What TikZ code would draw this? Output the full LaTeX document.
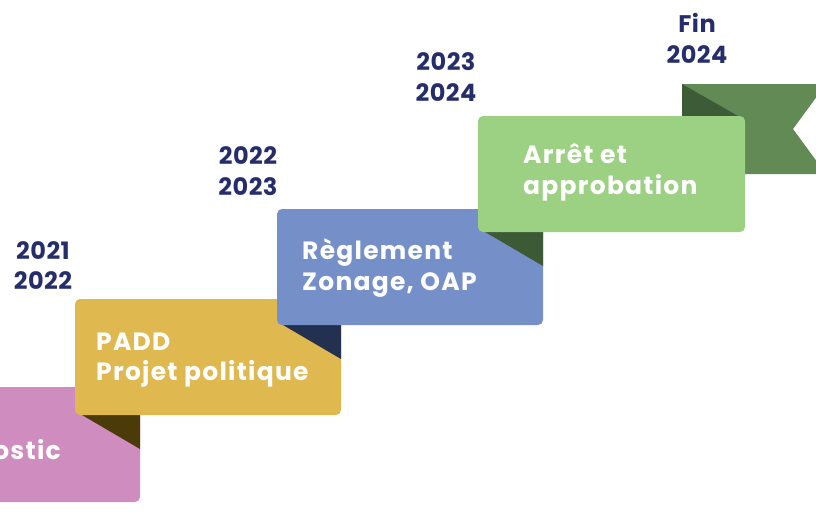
\documentclass[tikz,border=0pt]{standalone}
\usepackage{fontspec}
\setmainfont{Poppins}
\newfontfamily\boxfont{Poppins}[LetterSpace=5]
\newfontfamily\yearfont{Poppins}[LetterSpace=2]
\definecolor{pinkbox}{HTML}{CE8DBE}
\definecolor{yellowbox}{HTML}{DFB84F}
\definecolor{yellowdark}{HTML}{4A3B08}
\definecolor{bluebox}{HTML}{7590C9}
\definecolor{bluedark}{HTML}{23304F}
\definecolor{greenbox}{HTML}{9CD083}
\definecolor{greendark}{HTML}{3B5A35}
\definecolor{ribbon}{HTML}{628A55}
\definecolor{ribbondark}{HTML}{3D5B36}
\definecolor{navy}{HTML}{252E6B}
\begin{document}
\begin{tikzpicture}[x=1pt,y=-1pt,
  stepbox/.style={rounded corners=5pt},
  lbl/.style={anchor=base west, inner sep=0pt, text=white, font=\boxfont\fontsize{25}{30}\selectfont\bfseries},
  yr/.style={anchor=base, inner sep=0pt, text=navy, font=\yearfont\fontsize{24}{30}\selectfont\bfseries}]
\useasboundingbox (0,0) rectangle (816,531);
\clip (0,0) rectangle (816,531);
% ribbon end
\fill[ribbon] (682,84) -- (826,84) -- (793,129) -- (826,174) -- (682,174) -- cycle;
\fill[ribbondark] (682,84) -- (738,116) -- (682,116) -- cycle;
% boxes
\fill[pinkbox,stepbox] (-127,387) rectangle (140,502);
\fill[yellowdark] (82,415) -- (140,415) -- (140,449) -- cycle;
\fill[yellowbox,stepbox] (75,299) rectangle (341,415);
\fill[bluedark] (283,325) -- (341,325) -- (341,359) -- cycle;
\fill[bluebox,stepbox] (277,209) rectangle (543,325);
\fill[greendark] (485,232) -- (543,232) -- (543,266) -- cycle;
\fill[greenbox,stepbox] (478,116) rectangle (745,232);
% texts
\node[lbl, anchor=base east] (diag) at (61,459) {Diagnostic};
\node[lbl] (padd1) at (96,350) {PADD};
\node[lbl] (padd2) at (96,380) {Projet politique};
\node[lbl] (reg1) at (302,259) {Règlement};
\node[lbl] (reg2) at (302,290) {Zonage, OAP};
\node[lbl] (arr1) at (523,163) {Arrêt et};
\node[lbl] (arr2) at (523,194) {approbation};
% years
\node[yr] (y1a) at (43,259) {2021};
\node[yr] (y1b) at (43,289) {2022};
\node[yr] (y2a) at (248,164) {2022};
\node[yr] (y2b) at (248,195) {2023};
\node[yr] (y3a) at (446,70) {2023};
\node[yr] (y3b) at (446,101) {2024};
\node[yr] (y4a) at (697,32) {Fin};
\node[yr] (y4b) at (697,63) {2024};
\end{tikzpicture}
\end{document}
